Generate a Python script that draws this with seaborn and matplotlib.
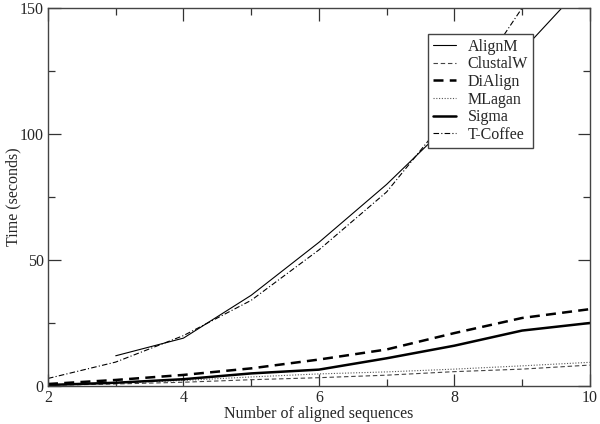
import pandas as pd
import matplotlib
matplotlib.use("Agg")
import matplotlib.pyplot as plt
import seaborn as sb
from matplotlib.ticker import MultipleLocator

# values
seqs = [2, 3, 4, 5, 6, 7, 8, 9, 10]
alignm_seqs = [3, 4, 5, 6, 7, 8, 9, 10]
alignm = [12, 19, 36, 57, 80, 106, 133, 162]
clustalw = [0.3, 0.8, 1.5, 2.5, 3.3, 4.3, 5.7, 6.7, 8.3]
dialign = [0.8, 2.4, 4.4, 7.0, 10.5, 14.5, 21, 27, 30.5]
mlagan = [0.5, 1.2, 2.2, 3.6, 4.8, 5.6, 6.7, 8.0, 9.4]
sigma = [0.4, 1.3, 2.7, 5.0, 6.5, 11, 16, 22, 25]
tcoffee = [3, 9.5, 20, 34, 54, 77, 110, 150, 200]

series = [
    ('AlignM', alignm_seqs, alignm, dict(ls='-', lw=0.8, c='black')),
    ('ClustalW', seqs, clustalw, dict(ls=(0, (4, 2.5)), lw=0.8, c='#444444')),
    ('DiAlign', seqs, dialign, dict(ls=(0, (4, 2.5)), lw=1.8, c='black')),
    ('MLagan', seqs, mlagan, dict(ls=(0, (1, 1.5)), lw=0.8, c='#555555')),
    ('Sigma', seqs, sigma, dict(ls='-', lw=1.8, c='black')),
    ('T-Coffee', seqs, tcoffee, dict(ls=(0, (5, 2, 1, 2)), lw=0.8, c='black')),
]

sb.set_style("ticks")
plt.rcParams['font.family'] = ['Liberation Serif', 'DejaVu Serif']
fs = 11.5

fig = plt.figure(figsize=(6, 4.24), dpi=100)
ax = fig.add_axes([0.08, 0.0896, 0.903, 0.8915])

for name, xs, ys, st in series:
    df = pd.DataFrame({'x': xs, 'y': ys})
    sb.lineplot(data=df, x='x', y='y', ax=ax, label=name, color=st['c'],
                linewidth=st['lw'], linestyle=st['ls'])

ax.set_xlim(2, 10)
ax.set_ylim(0, 150)
ax.xaxis.set_major_locator(MultipleLocator(2))
ax.xaxis.set_minor_locator(MultipleLocator(1))
ax.yaxis.set_major_locator(MultipleLocator(50))
ax.yaxis.set_minor_locator(MultipleLocator(25))
ax.tick_params(which='both', direction='in', top=True, right=True,
               color='#333333', labelsize=fs, width=0.9)
ax.tick_params(which='major', length=9, pad=3)
ax.tick_params(which='minor', length=5)
for sp in ax.spines.values():
    sp.set_color('#444444')
    sp.set_linewidth(1.0)

ax.set_xlabel('Number of aligned sequences', fontsize=fs, labelpad=0)
ax.set_ylabel('Time (seconds)', fontsize=fs, labelpad=-1)

handles, labels = ax.get_legend_handles_labels()
leg = ax.legend(handles, labels, loc='upper left', bbox_to_anchor=(0.701, 0.931),
                borderaxespad=0, fancybox=False, framealpha=1, edgecolor='#444444',
                fontsize=fs, handlelength=1.45, handletextpad=0.75,
                labelspacing=0.1, borderpad=0.3)
leg.get_frame().set_linewidth(1.0)
for t in leg.get_texts():
    t.set_ha('left')

fig.savefig('out.png', dpi=100)
